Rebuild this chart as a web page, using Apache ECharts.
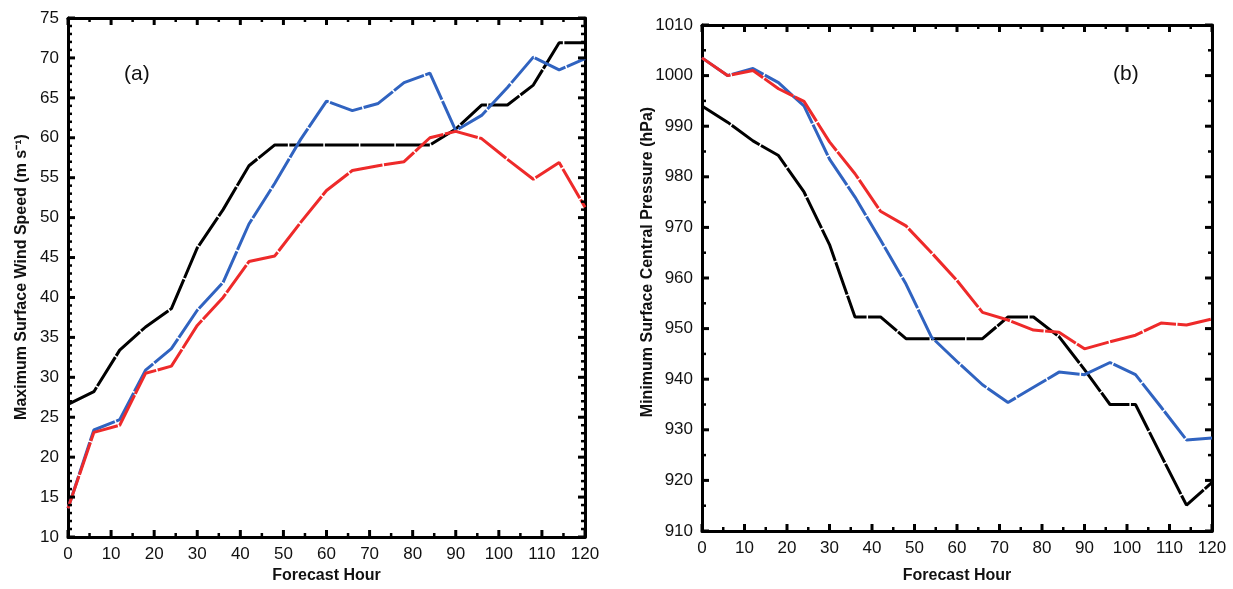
<!DOCTYPE html>
<html><head><meta charset="utf-8">
<script src="https://cdn.jsdelivr.net/npm/echarts@6/dist/echarts.min.js"></script>
<style>html,body{margin:0;padding:0;background:#fff}#c{width:1233px;height:589px}</style>
</head><body><div id="c"></div>
<script>
const hours = [0,6,12,18,24,30,36,42,48,54,60,66,72,78,84,90,96,102,108,114,120];
// Panel (a): maximum surface wind speed (m s-1)
const windBlack = [26.6,28.2,33.4,36.3,38.6,46.2,51.0,56.5,59.1,59.1,59.1,59.1,59.1,59.1,59.1,61.1,64.1,64.1,66.6,71.9,71.9];
const windBlue  = [13.6,23.4,24.7,30.9,33.6,38.4,41.9,49.2,54.3,59.8,64.6,63.4,64.3,66.9,68.1,60.9,62.8,66.3,70.1,68.5,69.9];
const windRed   = [13.6,23.1,24.0,30.5,31.4,36.5,40.0,44.5,45.2,49.4,53.4,55.9,56.5,57.0,60.0,60.8,59.9,57.3,54.8,56.9,51.3];
// Panel (b): minimum surface central pressure (hPa)
const presBlack = [994.0,990.8,987.1,984.2,977.0,966.6,952.3,952.3,948.0,948.0,948.0,948.0,952.3,952.3,948.4,941.9,935.0,935.0,925.0,915.1,919.6];
const presBlue  = [1003.5,1000.0,1001.4,998.6,994.0,983.5,976.0,967.5,958.8,948.3,943.5,938.9,935.4,938.4,941.4,940.9,943.3,940.9,934.5,928.0,928.4];
const presRed   = [1003.5,1000.0,1001.0,997.4,994.9,986.9,980.6,973.2,970.3,965.0,959.5,953.2,951.7,949.7,949.3,946.0,947.4,948.7,951.1,950.7,951.9];

const pair = v => hours.map((h,i)=>[h, v[i]]);
const BLACK = '#000000', BLUE = '#3063c0', RED = '#ee2a2a';
const FONT = 'Liberation Sans, Arial, sans-serif';

// axis settings per panel: [min, max, interval, minor subdivisions]
const X_AX = [0, 120, 10, 2];
const Y_A  = [10, 75, 5, 5];
const Y_B  = [910, 1010, 10, 2];

function axis(gi, ax, pos, labelled){
  const a = {
    type:'value', gridIndex:gi, position:pos, min:ax[0], max:ax[1], interval:ax[2],
    axisLine:{show:true, onZero:false, lineStyle:{color:'#000', width:3}},
    axisTick:{show:false}, minorTick:{show:false}, splitLine:{show:false},
    axisLabel:{show:false}
  };
  if (labelled) a.axisLabel = {show:true, color:'#111', fontSize:17, fontFamily:FONT, margin:9, formatter: v => String(v)};
  return a;
}
const xAxis = [
  Object.assign(axis(0, X_AX, 'bottom', true), {name:'Forecast Hour', nameLocation:'middle', nameGap:31,
    nameTextStyle:{color:'#111', fontSize:16, fontWeight:'bold', fontFamily:FONT}}),
  axis(0, X_AX, 'top', false),
  Object.assign(axis(1, X_AX, 'bottom', true), {name:'Forecast Hour', nameLocation:'middle', nameGap:37,
    nameTextStyle:{color:'#111', fontSize:16, fontWeight:'bold', fontFamily:FONT}}),
  axis(1, X_AX, 'top', false)
];
const yAxis = [
  axis(0, Y_A, 'left', true), axis(0, Y_A, 'right', false),
  axis(1, Y_B, 'left', true), axis(1, Y_B, 'right', false)
];

// inward tick marks on all four sides, placed through the axes' own scales
function tickItems(xa, ya){
  const d = [];
  const add = (ax, sides) => {
    const step = ax[2] / ax[3];
    const n = Math.round((ax[1] - ax[0]) / step);
    for (let k = 0; k <= n; k++){
      const v = ax[0] + k * step;
      const major = (k % ax[3] === 0) ? 1 : 0;
      sides.forEach(s => d.push([s, v, major]));
    }
  };
  add(xa, [0, 1]);
  add(ya, [2, 3]);
  return d;
}
function tickSeries(idx, xa, ya){
  return {
    type:'custom', xAxisIndex:idx, yAxisIndex:idx, clip:false, z:6, silent:true,
    data: tickItems(xa, ya),
    encode:{x:-1, y:-1},
    renderItem: function(params, api){
      const side = api.value(0), v = api.value(1), major = api.value(2);
      const len = major ? 7 : 4;
      let p, q;
      if (side === 0){ p = api.coord([v, ya[0]]); q = [p[0], p[1] - len]; }
      else if (side === 1){ p = api.coord([v, ya[1]]); q = [p[0], p[1] + len]; }
      else if (side === 2){ p = api.coord([xa[0], v]); q = [p[0] + len, p[1]]; }
      else { p = api.coord([xa[1], v]); q = [p[0] - len, p[1]]; }
      return {type:'line', shape:{x1:p[0], y1:p[1], x2:q[0], y2:q[1]},
              style:{stroke:'#000', lineWidth: major ? 3 : 2.5}};
    }
  };
}
function line(data, color, xi, yi, z){
  return {type:'line', data:pair(data), xAxisIndex:xi, yAxisIndex:yi,
    symbol:'none', smooth:false, z:z,
    lineStyle:{color:color, width:3, type:[34,1.5]}};
}
const chart = echarts.init(document.getElementById('c'));
chart.setOption({
  animation:false,
  backgroundColor:'#fff',
  grid:[
    {left:68, right:648, top:18, bottom:52},
    {left:702, right:21, top:25, bottom:53}
  ],
  xAxis: xAxis,
  yAxis: yAxis,
  series:[
    line(windBlack, BLACK, 0, 0, 3),
    line(windBlue, BLUE, 0, 0, 4),
    line(windRed, RED, 0, 0, 5),
    line(presBlack, BLACK, 2, 2, 3),
    line(presBlue, BLUE, 2, 2, 4),
    line(presRed, RED, 2, 2, 5),
    tickSeries(0, X_AX, Y_A),
    tickSeries(2, X_AX, Y_B)
  ],
  graphic:[
    {type:'text', left:124, top:64, style:{text:'(a)', fontSize:21, fontFamily:FONT, fill:'#111'}},
    {type:'text', left:1113, top:64, style:{text:'(b)', fontSize:21, fontFamily:FONT, fill:'#111'}},
    {type:'text', x:22, y:277, rotation:Math.PI/2,
     style:{text:'Maximum Surface Wind Speed (m s\u207B\u00B9)', fontSize:16, fontWeight:'bold', fontFamily:FONT, fill:'#111', align:'center', verticalAlign:'middle'}},
    {type:'text', x:648, y:262, rotation:Math.PI/2,
     style:{text:'Minimum Surface Central Pressure (hPa)', fontSize:16, fontWeight:'bold', fontFamily:FONT, fill:'#111', align:'center', verticalAlign:'middle'}}
  ]
});
</script></body></html>
